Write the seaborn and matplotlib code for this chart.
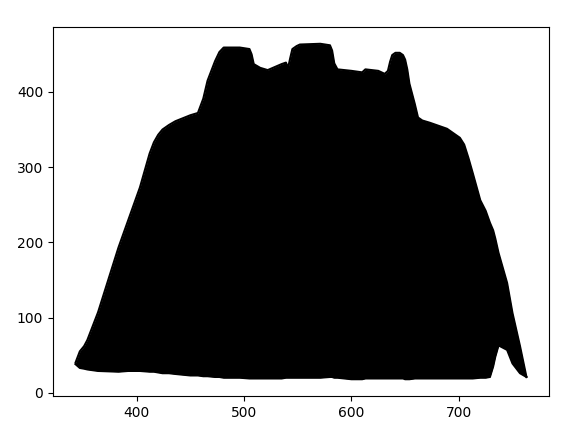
import numpy as np
import pandas as pd
import seaborn as sns
import matplotlib
matplotlib.use("Agg")
import matplotlib.pyplot as plt

# wavelength positions and upper / lower envelope of the trace
wavelength = [343, 347, 351, 354, 364, 383, 392, 403, 412, 416, 420, 424, 430,
              436, 443, 450, 457, 462, 466, 473, 477, 481, 496, 505, 507, 509,
              515, 522, 535, 539, 541, 543, 545, 549, 552, 571, 580, 582, 584,
              587, 600, 610, 613, 625, 631, 634, 636, 638, 641, 645, 648, 650,
              652, 654, 659, 662, 666, 673, 689, 701, 705, 709, 713, 720, 725,
              729, 732, 734, 737, 745, 750, 757, 763]
upper = [40, 55, 62, 70, 107, 193, 229, 273, 318, 333, 343, 350, 356,
         361, 365, 369, 372, 391, 415, 441, 453, 459, 459, 457, 450, 437,
         432, 429, 437, 439, 432, 445, 457, 461, 463, 464, 462, 455, 438,
         430, 428, 426, 430, 428, 424, 428, 440, 449, 452, 452, 449, 443,
         430, 411, 384, 366, 362, 359, 351, 339, 330, 312, 292, 256, 242,
         226, 216, 205, 186, 146, 106, 62, 21]
lower = [38, 33, 32, 31, 29, 28, 29, 29, 28, 28, 27, 26, 26,
         25, 24, 23, 23, 22, 22, 21, 21, 20, 20, 19, 19, 19,
         19, 19, 19, 20, 20, 20, 20, 20, 20, 20, 21, 21, 20,
         20, 18, 18, 19, 19, 19, 19, 19, 19, 19, 19, 19, 18,
         18, 18, 19, 19, 19, 19, 19, 19, 19, 19, 19, 20, 20,
         21, 35, 48, 63, 57, 39, 26, 21]

df = pd.DataFrame({"wavelength": wavelength, "upper": upper, "lower": lower})

fig, ax = plt.subplots(figsize=(5.74, 4.4), dpi=100)
fig.subplots_adjust(left=0.0923, right=0.9564, top=0.9386, bottom=0.1)

ax.fill_between(df["wavelength"], df["lower"], df["upper"], color="black", linewidth=0)
sns.lineplot(data=df, x="wavelength", y="upper", color="black", linewidth=1.5,
             estimator=None, ax=ax)
sns.lineplot(data=df, x="wavelength", y="lower", color="black", linewidth=1.5,
             estimator=None, ax=ax)

ax.set_xlabel("")
ax.set_ylabel("")
ax.set_xticks([400, 500, 600, 700])
ax.set_yticks([0, 100, 200, 300, 400])

fig.savefig("out.png", dpi=100)
